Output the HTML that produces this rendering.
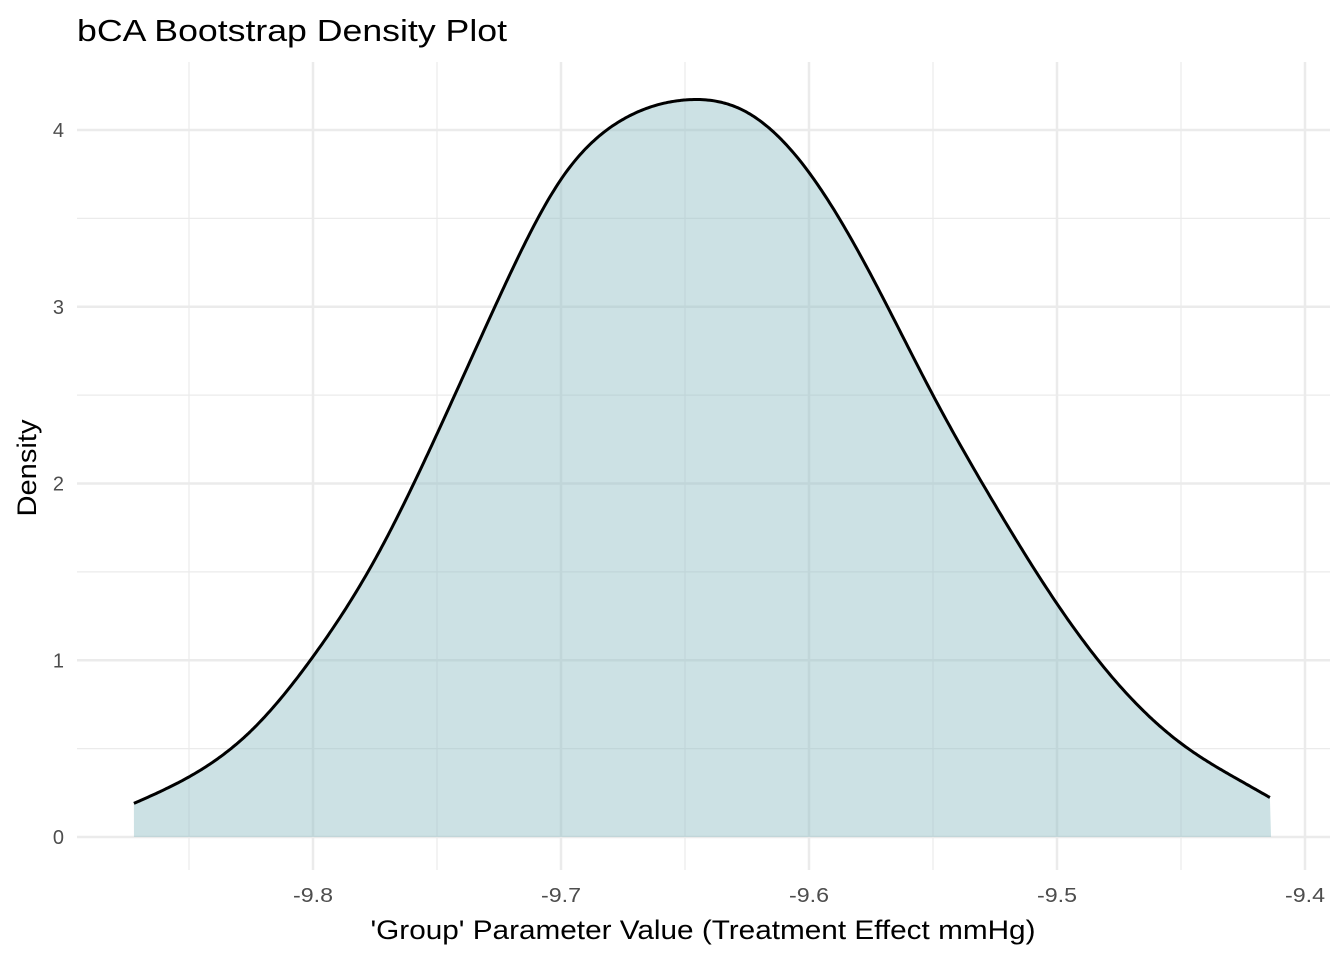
<!DOCTYPE html>
<html><head><meta charset="utf-8"><style>
body{margin:0;background:#fff;font-family:"Liberation Sans",sans-serif}
svg{display:block}
</style></head><body>
<svg id="chart" width="1344" height="960" xmlns="http://www.w3.org/2000/svg">
<text x="77" y="41" font-size="31" fill="#000" textLength="430" lengthAdjust="spacingAndGlyphs">bCA Bootstrap Density Plot</text>
<g id="grid"></g>
<g id="marks"></g>
<g id="axes"></g>
<text x="703" y="939" font-size="27" text-anchor="middle" fill="#000" textLength="665" lengthAdjust="spacingAndGlyphs">'Group' Parameter Value (Treatment Effect mmHg)</text>
<text transform="translate(36,468) rotate(-90)" font-size="27" text-anchor="middle" fill="#000" textLength="97" lengthAdjust="spacingAndGlyphs">Density</text>
</svg>
<script>
const xValues=[-9.8722,-9.85,-9.825,-9.8,-9.775,-9.75,-9.725,-9.7,-9.675,-9.65,-9.625,-9.6,-9.575,-9.55,-9.525,-9.5,-9.475,-9.45,-9.425,-9.4137];
const densities=[0.19,0.34,0.60,1.02,1.57,2.28,3.05,3.72,4.06,4.17,4.10,3.76,3.18,2.50,1.88,1.32,0.86,0.53,0.31,0.22];
const xTicks=[-9.8,-9.7,-9.6,-9.5,-9.4];
const xMinor=[-9.85,-9.75,-9.65,-9.55,-9.45];
const yTicks=[0,1,2,3,4];
const yMinor=[0.5,1.5,2.5,3.5];
const sx=v=>313+(v+9.8)*2480;
const sy=v=>837-v*176.75;
const NS="http://www.w3.org/2000/svg";
function mk(parent,tag,attrs){const e=document.createElementNS(NS,tag);for(const k in attrs)e.setAttribute(k,attrs[k]);parent.appendChild(e);return e;}
const grid=document.getElementById('grid'),marks=document.getElementById('marks'),axes=document.getElementById('axes');
const L=77,R=1330,T=62,B=870;
xMinor.forEach(v=>{const l=mk(grid,'line',{x1:sx(v),x2:sx(v),y1:T,y2:B,stroke:'#ebebeb','stroke-width':1.2});

});
yMinor.forEach(v=>{const l=mk(grid,'line',{x1:L,x2:R,y1:sy(v),y2:sy(v),stroke:'#ebebeb','stroke-width':1.2});

});
xTicks.forEach(v=>{const l=mk(grid,'line',{x1:sx(v),x2:sx(v),y1:T,y2:B,stroke:'#ebebeb','stroke-width':2.5});


const t=mk(axes,'text',{x:sx(v),y:902,'font-size':20,fill:'#4d4d4d','text-anchor':'middle',textLength:40,lengthAdjust:'spacingAndGlyphs'});t.textContent=v.toFixed(1);

});
yTicks.forEach(v=>{const l=mk(grid,'line',{x1:L,x2:R,y1:sy(v),y2:sy(v),stroke:'#ebebeb','stroke-width':2.5});


const t=mk(axes,'text',{x:64,y:sy(v)+7,'font-size':20,fill:'#4d4d4d','text-anchor':'end'});t.textContent=v;

});
function spline(xs,ys){const n=xs.length,h=[],a=[],l=[1],mu=[0],z=[0],c=new Array(n).fill(0),b=[],dd=[];
for(let i=0;i<n-1;i++)h.push(xs[i+1]-xs[i]);
for(let i=1;i<n-1;i++)a[i]=3/h[i]*(ys[i+1]-ys[i])-3/h[i-1]*(ys[i]-ys[i-1]);
for(let i=1;i<n-1;i++){l[i]=2*(xs[i+1]-xs[i-1])-h[i-1]*mu[i-1];mu[i]=h[i]/l[i];z[i]=(a[i]-h[i-1]*z[i-1])/l[i];}
for(let j=n-2;j>=0;j--){c[j]=(j>0?z[j]:0)-mu[j]*c[j+1];if(j===0)c[0]=0;b[j]=(ys[j+1]-ys[j])/h[j]-h[j]*(c[j+1]+2*c[j])/3;dd[j]=(c[j+1]-c[j])/(3*h[j]);}
return x=>{let i=0;while(i<n-2&&x>xs[i+1])i++;const t=x-xs[i];return ys[i]+b[i]*t+c[i]*t*t+dd[i]*t*t*t;};}
const f=spline(xValues,densities);
const x0=sx(xValues[0]),x1=sx(xValues[xValues.length-1]);
let d='';
for(let px=x0;px<=x1+0.01;px+=2){const p=Math.min(px,x1);const v=(p-313)/2480-9.8;d+=(d?' L':'M')+p.toFixed(1)+','+sy(f(v)).toFixed(1);}
const area=mk(marks,'path',{d:d+` L${x1},${sy(0)} L${x0},${sy(0)} Z`,fill:'#8fbcc4','fill-opacity':0.45});


const line=mk(marks,'path',{d:d,fill:'none',stroke:'#000','stroke-width':3,'stroke-linejoin':'round'});


</script>
</body></html>
